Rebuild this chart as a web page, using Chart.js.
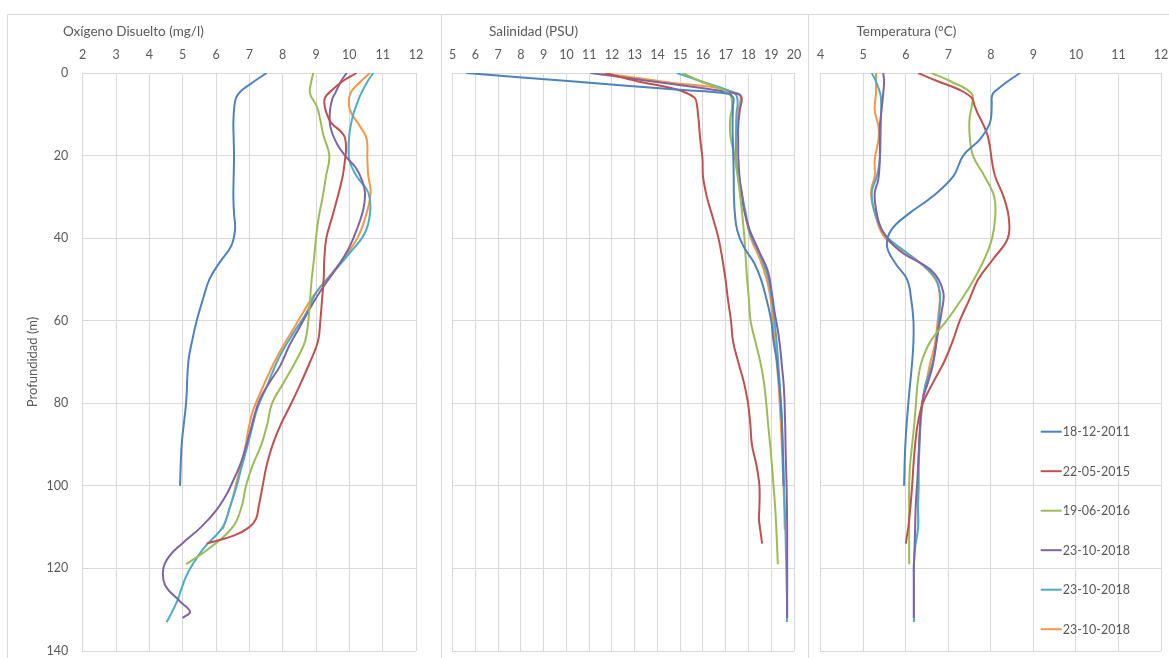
<!DOCTYPE html>
<html lang="es">
<head>
<meta charset="utf-8">
<title>Perfiles verticales</title>
<script src="https://cdn.jsdelivr.net/npm/chart.js@4/dist/chart.umd.min.js"></script>
<style>
  html, body { margin: 0; padding: 0; background: #ffffff; }
  body { width: 1169px; height: 658px; position: relative; overflow: hidden; font-family: Lato, "Open Sans", sans-serif; }
  .marco { position: absolute; box-sizing: border-box; border-left: 1px solid #d9d9d9; border-top: 1px solid #d9d9d9; }
  canvas { position: absolute; top: 14px; }
</style>
</head>
<body>
<div class="marco" style="left:7px;top:14px;width:434px;height:644px"></div>
<div class="marco" style="left:441px;top:14px;width:367px;height:644px"></div>
<div class="marco" style="left:808px;top:14px;width:361px;height:644px"></div>
<canvas id="cOxigeno" width="434" height="644" style="left:7px"></canvas>
<canvas id="cSalinidad" width="367" height="644" style="left:441px"></canvas>
<canvas id="cTemperatura" width="361" height="644" style="left:808px"></canvas>
<script>
// Campañas de muestreo (leyenda)
const campanas = ['18-12-2011', '22-05-2015', '19-06-2016', '23-10-2018', '23-10-2018', '23-10-2018'];
const colores = ['#4F81BD', '#C0504D', '#9BBB59', '#8064A2', '#4BACC6', '#F79646'];

// Ejes
const ticksProfundidad = [0, 20, 40, 60, 80, 100, 120, 140];
const rangoOxigeno = [2, 12];
const rangoSalinidad = [5, 20];
const rangoTemperatura = [4, 12];

// 18-12-2011
const prof2011 = [0, 2, 4, 5, 6, 8, 12, 16, 20, 25, 30, 34, 38, 42, 46, 50, 55, 60, 65, 70, 80, 90, 100];
const ox2011 = [7.52, 7.15, 6.8, 6.68, 6.6, 6.55, 6.52, 6.53, 6.54, 6.53, 6.52, 6.54, 6.57, 6.45, 6.1, 5.8, 5.6, 5.42, 5.28, 5.17, 5.1, 4.97, 4.92];
const sal2011 = [5.6, 10.2, 14.8, 17.1, 17.33, 17.32, 17.3, 17.31, 17.33, 17.35, 17.36, 17.4, 17.5, 17.78, 18.25, 18.55, 18.8, 19.0, 19.1, 19.25, 19.42, 19.5, 19.54];
const tem2011 = [8.69, 8.4, 8.15, 8.05, 8.02, 8.02, 7.98, 7.75, 7.35, 7.12, 6.62, 6.08, 5.66, 5.56, 5.75, 6.03, 6.13, 6.18, 6.18, 6.15, 6.06, 5.99, 5.96];

// 22-05-2015
const prof2015 = [0, 2, 4, 6, 8, 10, 12, 15, 18, 21, 25, 30, 35, 40, 45, 50, 55, 60, 65, 70, 75, 80, 85, 90, 95, 100, 105, 108, 110, 112, 114];
const ox2015 = [10.22, 9.8, 9.5, 9.27, 9.26, 9.33, 9.45, 9.83, 9.9, 9.87, 9.8, 9.65, 9.48, 9.31, 9.25, 9.23, 9.18, 9.13, 9.06, 8.82, 8.55, 8.26, 7.95, 7.7, 7.52, 7.4, 7.28, 7.2, 7.0, 6.55, 5.72];
const sal2015 = [11.7, 13.1, 14.85, 15.63, 15.74, 15.78, 15.82, 15.86, 15.92, 15.98, 16.0, 16.17, 16.43, 16.68, 16.85, 16.99, 17.1, 17.23, 17.32, 17.55, 17.8, 17.98, 18.08, 18.15, 18.35, 18.48, 18.48, 18.46, 18.5, 18.55, 18.6];
const tem2015 = [6.29, 6.75, 7.25, 7.55, 7.62, 7.7, 7.8, 7.92, 7.98, 8.02, 8.1, 8.3, 8.42, 8.4, 8.06, 7.7, 7.49, 7.27, 7.1, 6.9, 6.64, 6.4, 6.28, 6.22, 6.18, 6.15, 6.11, 6.08, 6.06, 6.03, 6.0];

// 19-06-2016
const prof2016 = [0, 2, 5, 8, 11, 15, 20, 25, 30, 35, 40, 45, 50, 55, 60, 65, 70, 75, 80, 85, 90, 95, 100, 105, 110, 115, 119];
const ox2016 = [8.92, 8.86, 8.82, 9.02, 9.12, 9.22, 9.4, 9.3, 9.2, 9.08, 9.0, 8.94, 8.87, 8.82, 8.77, 8.67, 8.38, 8.03, 7.68, 7.54, 7.36, 7.1, 6.9, 6.77, 6.5, 5.82, 5.1];
const sal2016 = [15.1, 15.9, 17.15, 17.28, 17.2, 17.2, 17.38, 17.52, 17.64, 17.74, 17.82, 17.88, 17.94, 18.02, 18.09, 18.3, 18.52, 18.68, 18.78, 18.86, 18.95, 19.03, 19.1, 19.17, 19.22, 19.26, 19.29];
const tem2016 = [6.6, 7.05, 7.55, 7.55, 7.5, 7.5, 7.58, 7.85, 8.08, 8.1, 8.03, 7.85, 7.6, 7.3, 6.96, 6.58, 6.37, 6.28, 6.24, 6.2, 6.15, 6.1, 6.08, 6.08, 6.08, 6.08, 6.08];

// 23-10-2018 (estación A)
const prof2018a = [0, 2, 5, 6, 9, 13, 17, 20, 23, 26, 29, 33, 38, 43, 48, 53, 58, 62, 66, 71, 75, 79, 83, 87, 91, 95, 99, 102, 106, 110, 114, 117, 120, 124, 128, 130.5, 132];
const ox2018a = [9.92, 9.75, 9.57, 9.5, 9.42, 9.43, 9.62, 9.87, 10.2, 10.38, 10.47, 10.42, 10.22, 9.95, 9.55, 9.12, 8.75, 8.48, 8.2, 7.92, 7.6, 7.32, 7.15, 7.02, 6.88, 6.72, 6.5, 6.32, 6.0, 5.55, 4.98, 4.6, 4.42, 4.47, 4.92, 5.22, 5.0];
const sal2018a = [11.05, 13.7, 17.5, 17.7, 17.62, 17.55, 17.55, 17.55, 17.58, 17.62, 17.7, 17.8, 18.05, 18.45, 18.85, 19.02, 19.15, 19.28, 19.38, 19.47, 19.54, 19.58, 19.6, 19.62, 19.63, 19.65, 19.67, 19.68, 19.69, 19.7, 19.7, 19.7, 19.7, 19.7, 19.7, 19.7, 19.7];
const tem2018a = [5.47, 5.49, 5.47, 5.46, 5.43, 5.39, 5.39, 5.39, 5.38, 5.35, 5.27, 5.3, 5.44, 5.85, 6.62, 6.88, 6.84, 6.77, 6.71, 6.63, 6.52, 6.4, 6.35, 6.33, 6.31, 6.29, 6.27, 6.25, 6.23, 6.22, 6.21, 6.2, 6.19, 6.19, 6.19, 6.19, 6.19];

// 23-10-2018 (estación B)
const prof2018b = [0, 2, 5, 7, 10, 15, 21, 25, 29, 34, 39, 44, 49, 53, 58, 63, 68, 72, 76, 81, 86, 91, 96, 100, 105, 110, 115, 119, 122, 125, 128, 131, 133];
const ox2018b = [10.72, 10.55, 10.35, 10.25, 10.12, 10.0, 10.0, 10.22, 10.57, 10.62, 10.45, 9.97, 9.44, 9.02, 8.72, 8.32, 7.95, 7.72, 7.52, 7.25, 7.08, 6.92, 6.75, 6.62, 6.42, 6.2, 5.64, 5.3, 5.1, 4.96, 4.83, 4.65, 4.52];
const sal2018b = [14.85, 15.9, 17.4, 17.52, 17.47, 17.45, 17.44, 17.55, 17.7, 17.88, 18.08, 18.5, 18.83, 18.98, 19.1, 19.2, 19.28, 19.33, 19.38, 19.44, 19.48, 19.51, 19.54, 19.56, 19.59, 19.62, 19.64, 19.66, 19.67, 19.68, 19.69, 19.69, 19.69];
const tem2018b = [5.2, 5.3, 5.4, 5.42, 5.42, 5.41, 5.39, 5.32, 5.2, 5.28, 5.5, 6.08, 6.65, 6.8, 6.79, 6.74, 6.68, 6.58, 6.45, 6.38, 6.34, 6.32, 6.3, 6.3, 6.29, 6.29, 6.22, 6.19, 6.19, 6.19, 6.19, 6.19, 6.19];

// 23-10-2018 (estación C)
const prof2018c = [0, 2, 5, 9, 13, 16, 21, 25, 29, 35, 40, 45, 50, 54, 59, 62, 66, 70, 74, 78, 82, 86, 91, 95, 99, 103, 107, 110.5];
const ox2018c = [10.62, 10.35, 10.03, 10.02, 10.33, 10.52, 10.54, 10.57, 10.64, 10.48, 10.24, 9.82, 9.32, 8.92, 8.54, 8.32, 8.02, 7.75, 7.52, 7.3, 7.1, 6.98, 6.87, 6.75, 6.62, 6.5, 6.35, 6.2];
const sal2018c = [11.55, 14.1, 17.55, 17.56, 17.5, 17.48, 17.47, 17.58, 17.7, 17.88, 18.1, 18.5, 18.8, 18.95, 19.05, 19.1, 19.18, 19.24, 19.3, 19.35, 19.39, 19.43, 19.47, 19.5, 19.53, 19.56, 19.58, 19.59];
const tem2018c = [5.3, 5.3, 5.3, 5.27, 5.36, 5.36, 5.27, 5.27, 5.18, 5.3, 5.52, 6.22, 6.7, 6.8, 6.76, 6.73, 6.68, 6.58, 6.5, 6.42, 6.37, 6.33, 6.31, 6.3, 6.3, 6.29, 6.29, 6.29];

const profundidades = [prof2011, prof2015, prof2016, prof2018a, prof2018b, prof2018c];

const TEXTO = '#595959';
const REJILLA = '#d9d9d9';
const FUENTE = 'Lato, "Open Sans", sans-serif';
Chart.defaults.font.family = FUENTE;
Chart.defaults.font.size = 12;
Chart.defaults.color = TEXTO;

function series(valores) {
  return valores.map((v, i) => ({
    label: campanas[i],
    data: profundidades[i].map((p, j) => ({ x: v[j], y: p })),
    borderColor: colores[i],
    backgroundColor: colores[i],
    borderWidth: 2,
    pointRadius: 0,
    pointHoverRadius: 0,
    showLine: true,
    fill: false,
    tension: 0.4
  }));
}

// Título de cada panel, alineado a la izquierda
const tituloPanel = {
  id: 'tituloPanel',
  afterDraw(chart, args, opts) {
    const ctx = chart.ctx;
    ctx.save();
    ctx.font = '13.5px ' + FUENTE;
    ctx.fillStyle = TEXTO;
    ctx.textAlign = 'left';
    ctx.textBaseline = 'middle';
    ctx.fillText(opts.text, opts.x, opts.y);
    ctx.restore();
  }
};

// Leyenda en columna dentro del área de trazado
const leyendaColumna = {
  id: 'leyendaColumna',
  afterDraw(chart, args, opts) {
    if (!opts.show) return;
    const ctx = chart.ctx;
    ctx.save();
    ctx.font = '12.5px ' + FUENTE;
    ctx.textBaseline = 'middle';
    ctx.textAlign = 'left';
    chart.data.datasets.forEach((ds, i) => {
      const y = opts.y + i * opts.step;
      ctx.strokeStyle = ds.borderColor;
      ctx.lineWidth = 2;
      ctx.beginPath();
      ctx.moveTo(opts.x, y);
      ctx.lineTo(opts.x + 21, y);
      ctx.stroke();
      ctx.fillStyle = TEXTO;
      ctx.fillText(ds.label, opts.x + 22, y + 0.5);
    });
    ctx.restore();
  }
};

function panel(id, valores, rango, cfg) {
  return new Chart(document.getElementById(id), {
    type: 'scatter',
    data: { datasets: series(valores) },
    plugins: [tituloPanel, leyendaColumna],
    options: {
      responsive: false,
      animation: false,
      devicePixelRatio: 1,
      events: [],
      layout: { padding: { left: 0, top: 0, right: cfg.right, bottom: 7 } },
      scales: {
        x: {
          type: 'linear',
          position: 'top',
          min: rango[0],
          max: rango[1],
          ticks: { stepSize: 1, padding: 11, color: TEXTO, font: { size: 12.5 } },
          grid: { color: REJILLA, lineWidth: 1, drawTicks: false },
          border: { color: REJILLA },
          afterFit(s) { s.height = 59; s.paddingLeft = 0; s.paddingRight = 0; }
        },
        y: {
          type: 'linear',
          reverse: true,
          min: ticksProfundidad[0],
          max: ticksProfundidad[ticksProfundidad.length - 1],
          afterBuildTicks(s) { s.ticks = ticksProfundidad.map(v => ({ value: v })); },
          ticks: { display: cfg.yLabels, padding: 14.5, color: TEXTO, font: { size: 12.5 } },
          title: {
            display: cfg.yLabels,
            text: 'Profundidad (m)',
            color: TEXTO,
            font: { size: 13 },
            padding: { top: 18, bottom: 0 }
          },
          grid: { color: REJILLA, lineWidth: 1, drawTicks: false },
          border: { color: REJILLA },
          afterFit(s) { s.width = cfg.left; s.paddingTop = 0; s.paddingBottom = 0; }
        }
      },
      plugins: {
        legend: { display: false },
        tooltip: { enabled: false },
        tituloPanel: cfg.titulo,
        leyendaColumna: cfg.leyenda || { show: false }
      }
    }
  });
}

panel('cOxigeno', [ox2011, ox2015, ox2016, ox2018a, ox2018b, ox2018c], rangoOxigeno, {
  left: 75.7, right: 25, yLabels: true,
  titulo: { text: 'Oxígeno Disuelto (mg/l)', x: 56, y: 18 }
});
panel('cSalinidad', [sal2011, sal2015, sal2016, sal2018a, sal2018b, sal2018c], rangoSalinidad, {
  left: 11.7, right: 14, yLabels: false,
  titulo: { text: 'Salinidad (PSU)', x: 48, y: 18 }
});
panel('cTemperatura', [tem2011, tem2015, tem2016, tem2018a, tem2018b, tem2018c], rangoTemperatura, {
  left: 12.7, right: 8, yLabels: false,
  titulo: { text: 'Temperatura (°C)', x: 48.5, y: 18 },
  leyenda: { show: true, x: 232.7, y: 417.7, step: 39.5 }
});
</script>
</body>
</html>
